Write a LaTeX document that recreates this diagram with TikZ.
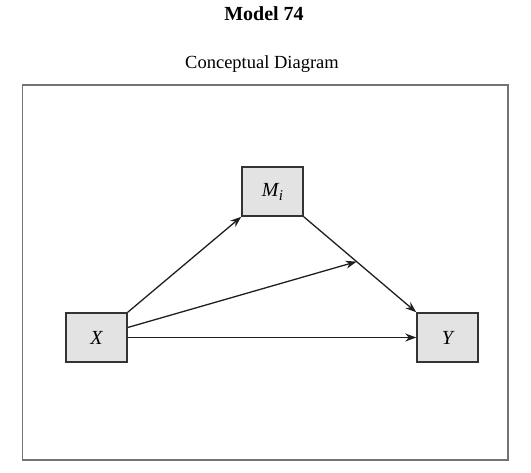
\documentclass[tikz,border=0pt]{standalone}
\usepackage{fontspec}
\setmainfont{Liberation Serif}
\usetikzlibrary{arrows.meta,calc}
\begin{document}
\begin{tikzpicture}[x=1pt,y=-1pt,
  var/.style={draw=black!80,line width=1.5pt,fill=gray!22,minimum width=61pt,minimum height=49pt,inner sep=0pt,font=\fontsize{20}{22}\selectfont\itshape},
  arr/.style={draw=black!88,line width=1.3pt,-{Stealth[length=11pt,width=8pt]}}]
\useasboundingbox (0,0) rectangle (531,473);
\node[font=\fontsize{20}{22}\selectfont\bfseries] (title) at (264,14) {Model 74};
\node[font=\fontsize{18.5}{20}\selectfont] (sub) at (262,64) {Conceptual Diagram};
\draw[draw=black!55,line width=1.7pt] (22.5,85) rectangle (508,460);
\node[var] (M) at (272.5,191.5) {M\kern0.5pt\raisebox{-4pt}{\fontsize{15}{16}\selectfont i}};
\node[var] (X) at (96.5,337.5) {X};
\node[var] (Y) at (447.5,337.5) {Y};
\draw[arr] (X.north east) -- (M.south west);
\draw[arr] (M.south east) -- (Y.north west);
\coordinate (mid) at ($(M.south east)!0.47!(Y.north west)$);
\draw[arr] ([yshift=10pt]X.east) -- (mid);
\draw[arr] (X.east) -- (Y.west);
\end{tikzpicture}
\end{document}
